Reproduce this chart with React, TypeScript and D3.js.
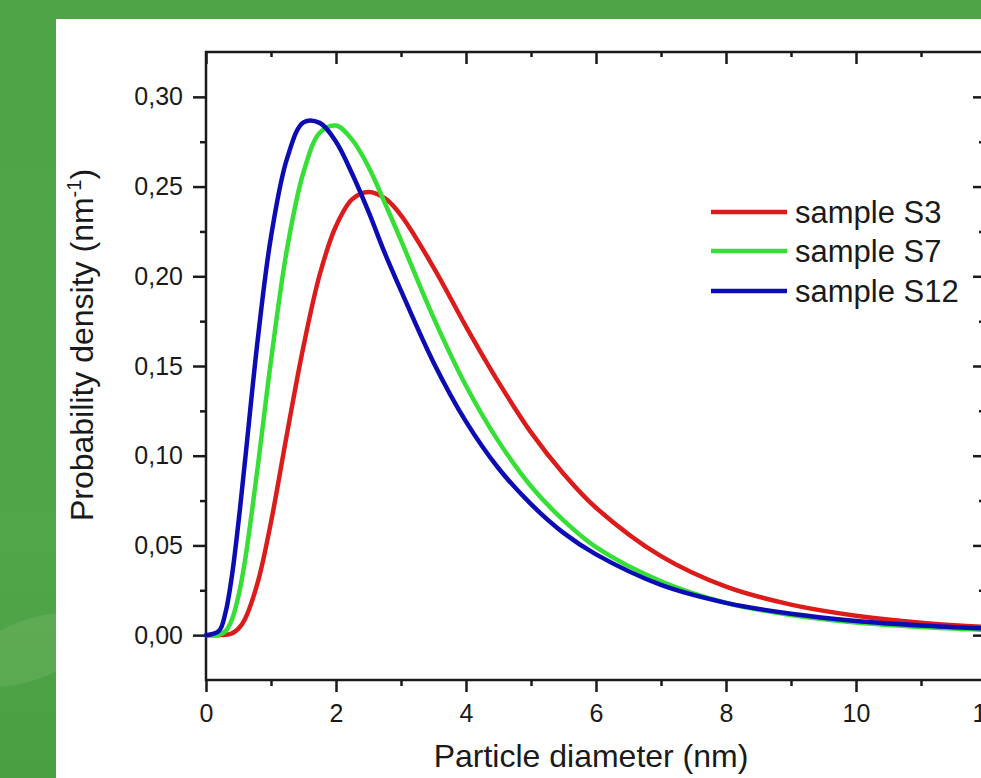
import React, { useEffect, useRef } from "react";
import * as d3 from "d3";

// particle diameter (nm), shared by all three samples
const diameters = [0, 0.2, 0.3, 0.4, 0.5, 0.6, 0.8, 1.0, 1.25, 1.5, 1.75, 2.0, 2.25, 2.5, 2.75, 3.0, 3.5, 4, 4.5, 5, 5.5, 6, 7, 8, 9, 10, 11, 12];

const sampleS3 = [0, 0, 0.0002, 0.001, 0.0036, 0.009, 0.030, 0.063, 0.113, 0.161, 0.201, 0.228, 0.243, 0.247, 0.2435, 0.234, 0.205, 0.172, 0.141, 0.113, 0.090, 0.071, 0.044, 0.027, 0.017, 0.0108, 0.0069, 0.0045];
const sampleS7 = [0, 0.0002, 0.0022, 0.0088, 0.022, 0.0415, 0.095, 0.153, 0.216, 0.258, 0.280, 0.284, 0.276, 0.261, 0.241, 0.220, 0.177, 0.139, 0.108, 0.083, 0.064, 0.049, 0.030, 0.018, 0.0112, 0.0070, 0.0045, 0.0029];
const sampleS12 = [0, 0.0024, 0.0126, 0.0334, 0.063, 0.097, 0.166, 0.222, 0.266, 0.2858, 0.2855, 0.275, 0.257, 0.236, 0.213, 0.192, 0.152, 0.119, 0.093, 0.073, 0.057, 0.045, 0.028, 0.018, 0.0119, 0.0079, 0.0054, 0.0037];

const seriesNames = ["sample S3", "sample S7", "sample S12"];
const seriesColors = ["#dc1b1b", "#36df36", "#0c0cb4"];

const xMajorTicks = [0, 2, 4, 6, 8, 10, 12];
const xMinorTicks = [1, 3, 5, 7, 9, 11];
const yMajorTicks = [0, 0.05, 0.1, 0.15, 0.2, 0.25, 0.3];
const yMinorTicks = [0.025, 0.075, 0.125, 0.175, 0.225, 0.275];

const W = 981;
const H = 778;
const FONT = "'Liberation Sans', Arial, Helvetica, sans-serif";

const commaFormat = d3.formatLocale({
    decimal: ",",
    thousands: ".",
    grouping: [3],
    currency: ["", ""]
}).format(".2f");

export default function App() {
    const ref = useRef<SVGSVGElement>(null);

    useEffect(() => {
        const svg = d3.select(ref.current);
        svg.selectAll("*").remove();

        const left = 206, right = 986, top = 52, bottom = 680;

        const x = d3.scaleLinear().domain([0, 12]).range([left, right]);
        const y = d3.scaleLinear().domain([-0.025, 0.325]).range([bottom, top]);

        // background
        const defs = svg.append("defs");
        const grad = defs.append("linearGradient")
            .attr("id", "bg")
            .attr("x1", 0).attr("y1", 0).attr("x2", 0).attr("y2", 1);
        grad.append("stop").attr("offset", "0%").attr("stop-color", "#4fa447");
        grad.append("stop").attr("offset", "70%").attr("stop-color", "#52a64a");
        grad.append("stop").attr("offset", "100%").attr("stop-color", "#4a9f43");
        svg.append("rect").attr("width", W).attr("height", H).attr("fill", "url(#bg)");
        svg.append("ellipse")
            .attr("cx", 30).attr("cy", 650).attr("rx", 70).attr("ry", 30)
            .attr("transform", "rotate(-20,30,650)")
            .attr("fill", "#7dbd6c").attr("opacity", 0.3);
        svg.append("rect")
            .attr("x", 56).attr("y", 19)
            .attr("width", W - 56).attr("height", H - 19)
            .attr("fill", "#ffffff");

        const g = svg.append("g");

        const styleAxis = (sel: any) => {
            sel.select(".domain").remove();
            sel.selectAll("line").attr("stroke", "#1a1a1a").attr("stroke-width", 2.5);
            sel.selectAll("text")
                .attr("fill", "#1a1a1a")
                .style("font-family", FONT)
                .style("font-size", "25px");
        };

        // bottom axis (ticks outward)
        g.append("g").attr("transform", `translate(0,${bottom})`)
            .call(d3.axisBottom(x).tickValues(xMajorTicks).tickSize(12).tickPadding(12).tickFormat(d3.format("d")))
            .call(styleAxis);
        g.append("g").attr("transform", `translate(0,${bottom})`)
            .call(d3.axisBottom(x).tickValues(xMinorTicks).tickSize(6).tickFormat(() => ""))
            .call(styleAxis);

        // top axis (ticks inward)
        g.append("g").attr("transform", `translate(0,${top})`)
            .call(d3.axisTop(x).tickValues(xMajorTicks).tickSize(-12).tickFormat(() => ""))
            .call(styleAxis);
        g.append("g").attr("transform", `translate(0,${top})`)
            .call(d3.axisTop(x).tickValues(xMinorTicks).tickSize(-5).tickFormat(() => ""))
            .call(styleAxis);

        // left axis (ticks outward)
        g.append("g").attr("transform", `translate(${left},0)`)
            .call(d3.axisLeft(y).tickValues(yMajorTicks).tickSize(13).tickPadding(10).tickFormat((d: any) => commaFormat(d)))
            .call(styleAxis);
        g.append("g").attr("transform", `translate(${left},0)`)
            .call(d3.axisLeft(y).tickValues(yMinorTicks).tickSize(6).tickFormat(() => ""))
            .call(styleAxis);

        // right axis (ticks inward)
        g.append("g").attr("transform", `translate(${right},0)`)
            .call(d3.axisRight(y).tickValues(yMajorTicks).tickSize(-13).tickFormat(() => ""))
            .call(styleAxis);
        g.append("g").attr("transform", `translate(${right},0)`)
            .call(d3.axisRight(y).tickValues(yMinorTicks).tickSize(-7).tickFormat(() => ""))
            .call(styleAxis);

        // frame
        g.append("rect")
            .attr("x", left).attr("y", top)
            .attr("width", right - left).attr("height", bottom - top)
            .attr("fill", "none")
            .attr("stroke", "#1a1a1a")
            .attr("stroke-width", 2.5);

        // curves
        const line = d3.line<number>()
            .x((_, i) => x(diameters[i]))
            .y(d => y(d))
            .curve(d3.curveCatmullRom.alpha(0.5));

        [sampleS3, sampleS7, sampleS12].forEach((values, i) => {
            g.append("path")
                .datum(values)
                .attr("d", line)
                .attr("fill", "none")
                .attr("stroke", seriesColors[i])
                .attr("stroke-width", 4.5)
                .attr("stroke-linejoin", "round")
                .attr("stroke-linecap", "round");
        });

        // legend
        const legendRows = [212, 251, 291];
        seriesNames.forEach((name, i) => {
            const ly = legendRows[i];
            g.append("line")
                .attr("x1", 711).attr("x2", 787)
                .attr("y1", ly).attr("y2", ly)
                .attr("stroke", seriesColors[i])
                .attr("stroke-width", 4.5);
            g.append("text")
                .attr("x", 795).attr("y", ly + 11)
                .attr("fill", "#1a1a1a")
                .style("font-family", FONT)
                .style("font-size", "31px")
                .text(name);
        });

        // axis titles
        g.append("text")
            .attr("x", 591).attr("y", 767)
            .attr("text-anchor", "middle")
            .attr("fill", "#1a1a1a")
            .style("font-family", FONT)
            .style("font-size", "32px")
            .text("Particle diameter (nm)");

        const yTitle = g.append("text")
            .attr("transform", "translate(93,345) rotate(-90)")
            .attr("text-anchor", "middle")
            .attr("fill", "#1a1a1a")
            .style("font-family", FONT)
            .style("font-size", "32px");
        yTitle.append("tspan").text("Probability density (nm");
        yTitle.append("tspan").attr("dy", -12).style("font-size", "20px").text("-1");
        yTitle.append("tspan").attr("dy", 12).text(")");
    }, []);

    return (
        <svg
            ref={ref}
            width={W}
            height={H}
            style={{ position: "absolute", left: 0, top: 0, display: "block" }}
        />
    );
}
